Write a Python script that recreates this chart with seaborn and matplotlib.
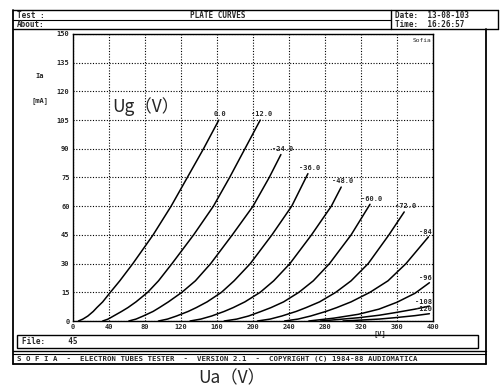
import pandas as pd
import matplotlib.pyplot as plt
import seaborn as sns
from matplotlib.lines import Line2D
from matplotlib.patches import Rectangle

W, H = 500, 392

# 栅压标签
grid_labels = ['0.0', '-12.0', '-24.0', '-36.0', '-48.0', '-60.0', '-72.0', '-84', '-96', '-108', '-120']

# 各栅压下的 Ua (V) / Ia (mA) 读数
ua_g0 = [6, 11, 16.5, 22.5, 26.5, 33, 41.5, 52, 66.5, 89, 109, 127, 145, 162]
ia_g0 = [0, 1, 2.6, 5, 7, 10, 15, 21, 30, 45, 60, 75, 90, 105]
ua_g12 = [33, 39, 45, 54, 61, 70, 83, 95, 110, 134, 156, 174, 191, 208]
ia_g12 = [0, 1, 2.6, 5, 7, 10, 15, 21, 30, 45, 60, 75, 90, 105]
ua_g24 = [62, 70, 78, 89, 96, 106, 121, 136, 153, 177, 200, 218, 231]
ia_g24 = [0, 1, 2.6, 5, 7, 10, 15, 21, 30, 45, 60, 75, 87]
ua_g36 = [95, 105, 115, 128, 137, 149, 165, 179, 197, 221, 243, 261]
ia_g36 = [0, 1, 2.6, 5, 7, 10, 15, 21, 30, 45, 60, 77]
ua_g48 = [130, 142, 154, 168, 178, 191, 208, 223, 241, 265, 287, 298]
ia_g48 = [0, 1, 2.6, 5, 7, 10, 15, 21, 30, 45, 60, 70]
ua_g60 = [168, 182, 195, 209, 220, 234, 251, 267, 285, 309, 330]
ia_g60 = [0, 1, 2.6, 5, 7, 10, 15, 21, 30, 45, 61]
ua_g72 = [205, 219, 232, 248, 259, 274, 292, 309, 328, 351, 368]
ia_g72 = [0, 1, 2.6, 5, 7, 10, 15, 21, 30, 45, 57]
ua_g84 = [235, 250, 264, 281, 293, 309, 330, 350, 370, 395]
ia_g84 = [0, 1, 2.6, 5, 7, 10, 15, 21, 30, 44]
ua_g96 = [262, 290, 317, 340, 360, 380, 396]
ia_g96 = [0, 1.5, 3.5, 6.2, 9.8, 14.5, 20]
ua_g108 = [275, 317, 340, 357, 380, 396]
ia_g108 = [0, 1.7, 3, 4.3, 6.2, 7.8]
ua_g120 = [300, 340, 357, 380, 396]
ia_g120 = [0, 1, 1.7, 2.8, 3.8]

x_ticks = [0, 40, 80, 120, 160, 200, 240, 280, 320, 360, 400]
y_ticks = [0, 15, 30, 45, 60, 75, 90, 105, 120, 135, 150]

ua_all = [ua_g0, ua_g12, ua_g24, ua_g36, ua_g48, ua_g60, ua_g72, ua_g84, ua_g96, ua_g108, ua_g120]
ia_all = [ia_g0, ia_g12, ia_g24, ia_g36, ia_g48, ia_g60, ia_g72, ia_g84, ia_g96, ia_g108, ia_g120]

frames = []
for lab, ua, ia in zip(grid_labels, ua_all, ia_all):
    frames.append(pd.DataFrame({'Ua': ua, 'Ia': ia, 'Ug': lab}))
df = pd.concat(frames, ignore_index=True)

sns.set_theme(style='white')
plt.rcParams['font.family'] = ['DejaVu Sans Mono', 'Noto Sans CJK SC']


def fx(x):
    return x / W


def fy(y):
    return 1 - y / H


fig = plt.figure(figsize=(5, 3.92), dpi=100)
fig.patch.set_facecolor('white')
ax = fig.add_axes([fx(73), fy(321), 360 / W, 287 / H])

sns.lineplot(data=df, x='Ua', y='Ia', hue='Ug', hue_order=grid_labels,
             palette=['black'] * len(grid_labels), sort=False, estimator=None,
             legend=False, linewidth=1.1, ax=ax)

ax.set_xlim(0, 400)
ax.set_ylim(0, 150)
ax.set_xticks(x_ticks)
ax.set_yticks(y_ticks)
ax.set_xticklabels([str(v) for v in x_ticks])
ax.set_yticklabels([str(v) for v in y_ticks])
ax.grid(True, color='black', linestyle=(0, (1, 1.5)), linewidth=0.8)
ax.tick_params(labelsize=5, length=0, pad=2.5)
for t in ax.get_xticklabels() + ax.get_yticklabels():
    t.set_fontweight('bold')
for s in ax.spines.values():
    s.set_color('black')
    s.set_linewidth(1)
ax.set_xlabel('')
ax.set_ylabel('')

# 曲线标签
for i, (lab, ua, ia) in enumerate(zip(grid_labels, ua_all, ia_all)):
    if i < 7:
        ax.annotate(lab, (ua[-1], ia[-1]), xytext=(1, 2), textcoords='offset points',
                    ha='center', va='bottom', fontsize=5, fontweight='bold')
    else:
        ax.annotate(lab, (400, ia[-1]), xytext=(-1, 1), textcoords='offset points',
                    ha='right', va='bottom', fontsize=5, fontweight='bold')

ax.text(341, -4.5, '[V]', ha='center', va='top', fontsize=5, fontweight='bold')
ax.text(398, 148, 'Sofia', ha='right', va='top', fontsize=4.5)
fig.text(fx(40), fy(76), 'Ia', ha='center', va='center', fontsize=5, fontweight='bold')
fig.text(fx(40), fy(101), '[mA]', ha='center', va='center', fontsize=5, fontweight='bold')

# 坐标轴名称
fig.text(fx(112), fy(111.7), 'Ug（V）', ha='left', va='baseline', fontsize=12.5,
         family=['Noto Sans CJK SC', 'DejaVu Sans'])
fig.text(fx(198), fy(383.5), 'Ua（V）', ha='left', va='baseline', fontsize=12.5,
         family=['Noto Sans CJK SC', 'DejaVu Sans'])

# 外框
def hline(y, x0, x1, lw=1.0):
    fig.add_artist(Line2D([fx(x0), fx(x1)], [fy(y), fy(y)], color='black', lw=lw))


def vline(x, y0, y1, lw=1.0):
    fig.add_artist(Line2D([fx(x), fx(x)], [fy(y0), fy(y1)], color='black', lw=lw))


hline(10, 13, 498)
hline(19.5, 13, 391, 0.8)
hline(29, 13, 498)
vline(391, 10, 29)
vline(498, 10, 29)
vline(13, 10, 364, 1.3)
vline(486, 29, 364, 1.3)
hline(351, 13, 486)
hline(353.5, 13, 486, 0.8)
hline(364, 13, 486, 1.3)
fig.add_artist(Rectangle((fx(17), fy(348)), fx(478) - fx(17), fy(335) - fy(348),
                         fill=False, edgecolor='black', lw=1.0))

fig.text(fx(17), fy(15), 'Test :', ha='left', va='center', fontsize=5.5, fontweight='bold')
fig.text(fx(17), fy(24.5), 'About:', ha='left', va='center', fontsize=5.5, fontweight='bold')
fig.text(fx(218), fy(15), 'PLATE CURVES', ha='center', va='center', fontsize=5.5, fontweight='bold')
fig.text(fx(395), fy(15), 'Date:  13-08-103', ha='left', va='center', fontsize=5.5, fontweight='bold')
fig.text(fx(395), fy(24.5), 'Time:  16:26:57', ha='left', va='center', fontsize=5.5, fontweight='bold')
fig.text(fx(22), fy(341.5), 'File:     45', ha='left', va='center', fontsize=5.5, fontweight='bold')
fig.text(fx(17), fy(358.5),
         'S O F I A  -  ELECTRON TUBES TESTER  -  VERSION 2.1  -  COPYRIGHT (C) 1984-88 AUDIOMATICA',
         ha='left', va='center', fontsize=5.3, fontweight='bold')

fig.savefig('out.png', dpi=100, facecolor='white')
